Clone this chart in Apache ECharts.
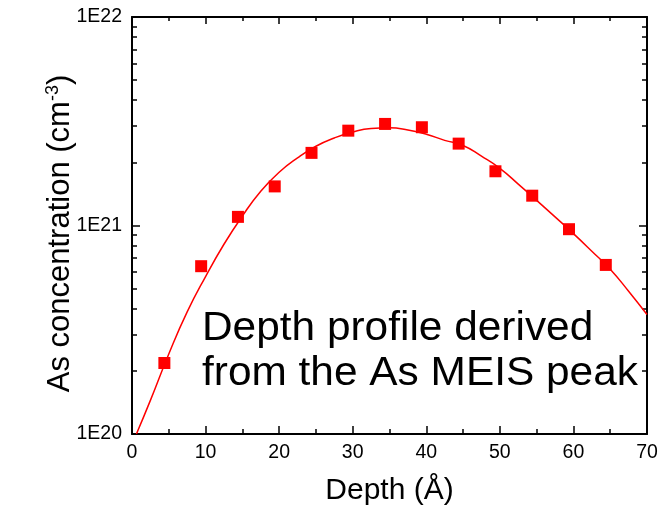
<!DOCTYPE html>
<html>
<head>
<meta charset="utf-8">
<script src="https://cdn.jsdelivr.net/npm/echarts@6/dist/echarts.min.js"></script>
<style>
html,body{margin:0;padding:0;background:#fff;}
#chart{width:662px;height:511px;}
</style>
</head>
<body>
<div id="chart"></div>
<script>
// Measured points (depth in Å, concentration in cm^-3)
var pointDepth = [4.4, 9.4, 14.4, 19.4, 24.4, 29.4, 34.4, 39.4, 44.4, 49.4, 54.4, 59.4, 64.4];
var pointConc = [2.19e20, 6.38e20, 1.10e21, 1.54e21, 2.23e21, 2.85e21, 3.07e21, 2.96e21, 2.47e21, 1.82e21, 1.39e21, 9.6e20, 6.47e20];

// Fitted curve
var curveDepth = [0.6, 2.5, 5, 7.5, 10, 12.5, 15, 17.5, 20, 22.5, 25, 27.5, 30, 32.5, 35, 37.5, 40, 42.5, 45, 47.5, 50, 52.5, 55, 57.5, 60, 62.5, 65, 67.5, 70];
var curveConc = [1.0e20, 1.45e20, 2.42e20, 3.85e20, 5.69e20, 8.13e20, 1.11e21, 1.46e21, 1.80e21, 2.11e21, 2.40e21, 2.63e21, 2.81e21, 2.92e21, 2.94e21, 2.87e21, 2.74e21, 2.56e21, 2.42e21, 2.15e21, 1.88e21, 1.58e21, 1.32e21, 1.10e21, 9.14e20, 7.53e20, 6.17e20, 4.84e20, 3.74e20];

// Axis ticks
var xMin = 0, xMax = 70, xStep = 10;
var yMajorValues = [1e20, 1e21, 1e22];
var yMajorLabels = ['1E20', '1E21', '1E22'];
var yMinorValues = [2e20, 3e20, 4e20, 5e20, 6e20, 7e20, 8e20, 9e20, 2e21, 3e21, 4e21, 5e21, 6e21, 7e21, 8e21, 9e21];

var xTitle = 'Depth (Å)';
var yTitle = 'As concentration (cm{sup|-3})';
var annotation = 'Depth profile derived\nfrom the As MEIS peak';

var FONT = 'Liberation Sans, Arial, sans-serif';
var chart = echarts.init(document.getElementById('chart'), null, {renderer: 'canvas'});

function zip(a, b) { return a.map(function (v, i) { return [v, b[i]]; }); }

var axisLineStyle = {color: '#000', width: 2};

function yAxisDef(pos, major, withLabels) {
  return {
    type: 'log', logBase: 10, position: pos,
    min: 1e20, max: 1e22,
    axisLine: {show: major, lineStyle: axisLineStyle},
    axisTick: {show: true, inside: true, length: major ? 8 : 5, lineStyle: {color: '#000', width: 1.5},
      customValues: major ? yMajorValues : yMinorValues},
    minorTick: {show: false},
    axisLabel: withLabels ? {
      show: true, customValues: yMajorValues, margin: 10, color: '#000', fontSize: 19.5, fontFamily: FONT,
      hideOverlap: false,
      formatter: function (v) {
        for (var i = 0; i < yMajorValues.length; i++) {
          if (Math.abs(Math.log10(v) - Math.log10(yMajorValues[i])) < 1e-6) return yMajorLabels[i];
        }
        return '';
      }
    } : {show: false},
    splitLine: {show: false}
  };
}

var yAxes = [yAxisDef('left', true, true), yAxisDef('left', false, false), yAxisDef('right', true, false), yAxisDef('right', false, false)];
yAxes[0].name = yTitle;
yAxes[0].nameLocation = 'middle';
yAxes[0].nameGap = 55;
yAxes[0].nameMoveOverlap = false;
yAxes[0].nameTextStyle = {
  color: '#000', fontSize: 31, fontFamily: FONT, padding: [0, 16, 0, 0],
  rich: {sup: {fontSize: 18, fontFamily: FONT, color: '#000', verticalAlign: 'top', padding: [0, 0, 15, 0]}}
};

function xAxisDef(pos, withLabels) {
  return {
    type: 'value', position: pos, min: xMin, max: xMax, interval: xStep,
    axisLine: {show: true, onZero: false, lineStyle: axisLineStyle},
    axisTick: {show: true, inside: true, length: withLabels ? 8 : 7, lineStyle: {color: '#000', width: 1.5}},
    minorTick: {show: true, splitNumber: 2, length: withLabels ? 5 : 4, lineStyle: {color: '#000', width: 1.5}},
    axisLabel: withLabels ? {show: true, margin: 9, color: '#000', fontSize: 19.5, fontFamily: FONT} : {show: false},
    splitLine: {show: false}, minorSplitLine: {show: false}
  };
}
var xAxes = [xAxisDef('bottom', true), xAxisDef('top', false)];
xAxes[0].name = xTitle;
xAxes[0].nameLocation = 'middle';
xAxes[0].nameGap = 42;
xAxes[0].nameMoveOverlap = false;
xAxes[0].nameTextStyle = {color: '#000', fontSize: 30, fontFamily: FONT};

var option = {
  animation: false,
  backgroundColor: '#fff',
  grid: {left: 132, right: 15, top: 17, bottom: 74, containLabel: false},
  xAxis: xAxes,
  yAxis: yAxes,
  series: [
    {
      type: 'line', xAxisIndex: 0, yAxisIndex: 0,
      data: zip(curveDepth, curveConc),
      showSymbol: false, smooth: 0.5, clip: true,
      lineStyle: {color: '#ff0000', width: 1.5}
    },
    {
      type: 'scatter', xAxisIndex: 0, yAxisIndex: 0,
      data: zip(pointDepth, pointConc),
      symbol: 'rect', symbolSize: 12,
      itemStyle: {color: '#ff0000', opacity: 1}
    }
  ],
  graphic: [{
    type: 'text', x: 202, y: 306, scaleX: 1.06,
    style: {text: annotation, fill: '#000', font: '40px ' + FONT, lineHeight: 45, textVerticalAlign: 'top'}
  }]
};
chart.setOption(option);
</script>
</body>
</html>
